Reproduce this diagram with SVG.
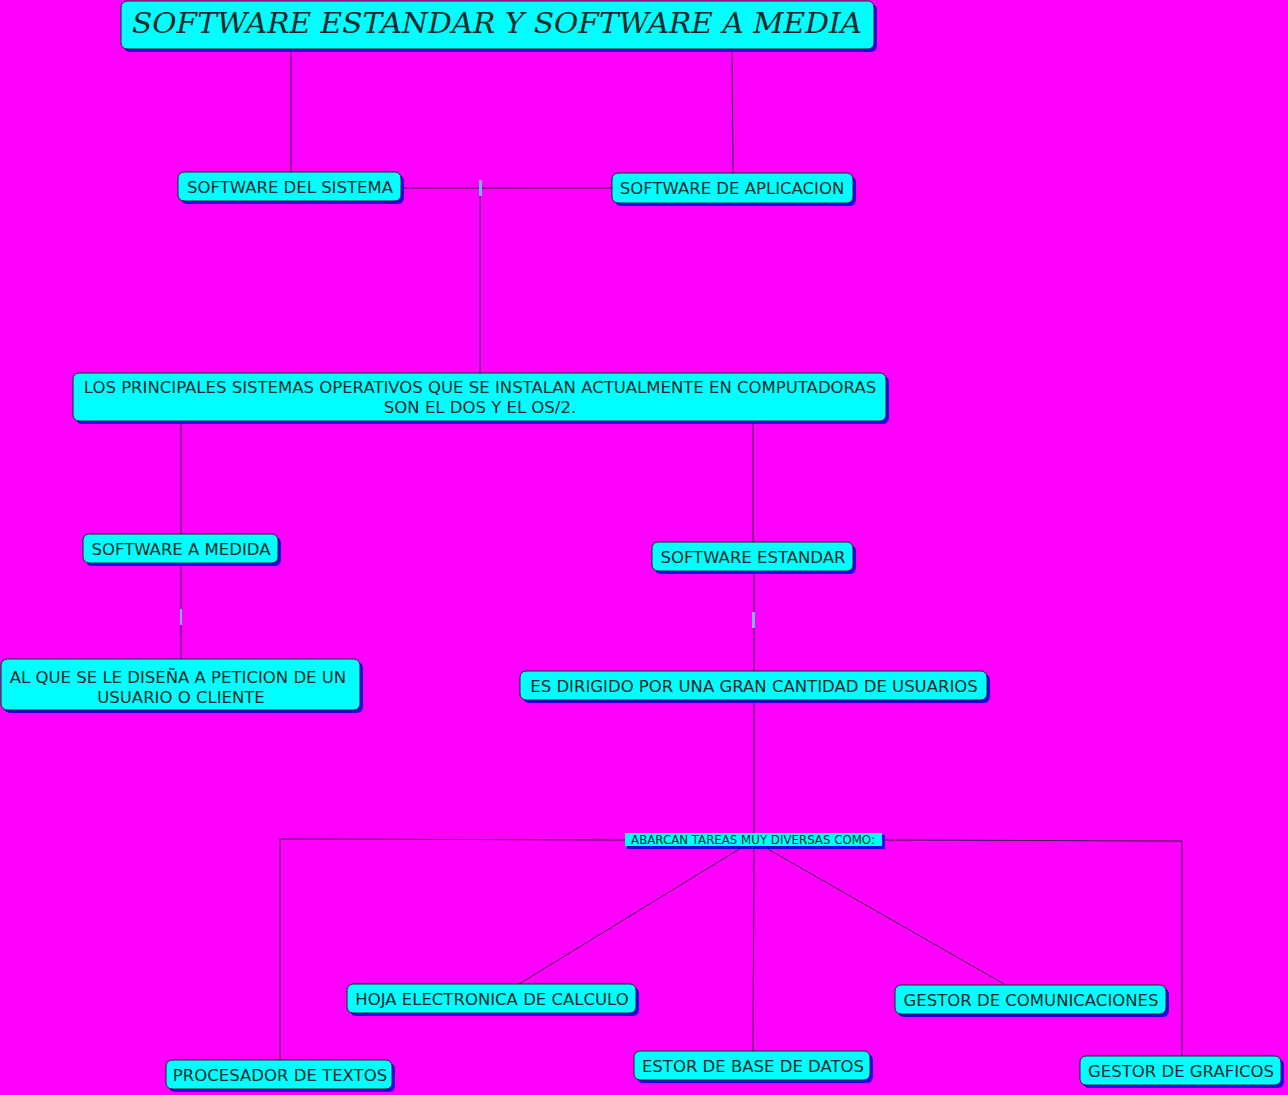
<svg xmlns="http://www.w3.org/2000/svg" width="1288" height="1095" viewBox="0 0 1288 1095">
<style>
.box{fill:#00ffff;stroke:#222;stroke-width:1}
.sh{fill:#2000ee}
.t{font-family:"DejaVu Sans",Verdana,sans-serif;font-size:16.5px;fill:#0a2a2a;text-anchor:middle}
.c{stroke:#3a0040;stroke-width:1;fill:none}
.tick{fill:#6fb8ff}
</style>
<rect width="1288" height="1095" fill="#ff00ff"/>
<g id="connectors">
<path class="c" d="M291 49V172M732 49L733 173M401 188H612M480 188V373M181 421V534M753 421V542M181 563V659M754 571V671M754 700V833M625 840L280 839V1060M882 840L1182 841V1056M741 848L519 984M754 848L753 1051M766 848L1004 984"/>
<rect class="tick" x="479" y="180" width="3" height="16"/>
<rect class="tick" x="180" y="609" width="2" height="16"/>
<rect class="tick" x="752" y="612" width="3" height="16"/>
</g>
<g id="title">
<rect class="sh" x="124" y="4" width="753" height="48" rx="6"/>
<rect class="box" x="121" y="1" width="753" height="48" rx="6"/>
<text x="497" y="33" font-family="'DejaVu Serif',serif" font-style="italic" font-size="28" fill="#0a2a2a" text-anchor="middle" textLength="730" lengthAdjust="spacingAndGlyphs">SOFTWARE ESTANDAR Y SOFTWARE A MEDIA</text>
</g>
<g id="n-sistema">
<rect class="sh" x="181" y="175" width="223" height="29" rx="6"/>
<rect class="box" x="178" y="172" width="223" height="29" rx="6"/>
<text class="t" x="290" y="193">SOFTWARE DEL SISTEMA</text>
</g>
<g id="n-aplicacion">
<rect class="sh" x="615" y="176" width="241" height="30" rx="6"/>
<rect class="box" x="612" y="173" width="241" height="30" rx="6"/>
<text class="t" x="732" y="194">SOFTWARE DE APLICACION</text>
</g>
<g id="n-principales">
<rect class="sh" x="76" y="376" width="813" height="48" rx="6"/>
<rect class="box" x="73" y="373" width="813" height="48" rx="6"/>
<text class="t" x="480" y="393">LOS PRINCIPALES SISTEMAS OPERATIVOS QUE SE INSTALAN ACTUALMENTE EN COMPUTADORAS</text>
<text class="t" x="480" y="413">SON EL DOS Y EL OS/2.</text>
</g>
<g id="n-medida">
<rect class="sh" x="86" y="537" width="195" height="29" rx="6"/>
<rect class="box" x="83" y="534" width="195" height="29" rx="6"/>
<text class="t" x="181" y="555">SOFTWARE A MEDIDA</text>
</g>
<g id="n-estandar">
<rect class="sh" x="655" y="545" width="201" height="29" rx="6"/>
<rect class="box" x="652" y="542" width="201" height="29" rx="6"/>
<text class="t" x="753" y="563">SOFTWARE ESTANDAR</text>
</g>
<g id="n-peticion">
<rect class="sh" x="4" y="662" width="359" height="51" rx="6"/>
<rect class="box" x="1" y="659" width="359" height="51" rx="6"/>
<text class="t" x="178" y="683">AL QUE SE LE DISEÑA A PETICION DE UN</text>
<text class="t" x="181" y="703">USUARIO O CLIENTE</text>
</g>
<g id="n-dirigido">
<rect class="sh" x="523" y="674" width="467" height="29" rx="6"/>
<rect class="box" x="520" y="671" width="467" height="29" rx="6"/>
<text class="t" x="754" y="692">ES DIRIGIDO POR UNA GRAN CANTIDAD DE USUARIOS</text>
</g>
<g id="l-abarcan">
<rect class="sh" x="627" y="835" width="258" height="14"/>
<rect x="625" y="833" width="257" height="13" fill="#00ffff"/>
<text x="753" y="844" font-family="'DejaVu Sans',Verdana,sans-serif" font-size="11.8" fill="#0a2a2a" text-anchor="middle">ABARCAN TAREAS MUY DIVERSAS COMO:</text>
</g>
<g id="n-hoja">
<rect class="sh" x="350" y="987" width="289" height="29" rx="6"/>
<rect class="box" x="347" y="984" width="289" height="29" rx="6"/>
<text class="t" x="492" y="1005">HOJA ELECTRONICA DE CALCULO</text>
</g>
<g id="n-comunicaciones">
<rect class="sh" x="898" y="988" width="271" height="29" rx="6"/>
<rect class="box" x="895" y="985" width="271" height="29" rx="6"/>
<text class="t" x="1031" y="1006">GESTOR DE COMUNICACIONES</text>
</g>
<g id="n-procesador">
<rect class="sh" x="169" y="1063" width="226" height="29" rx="6"/>
<rect class="box" x="166" y="1060" width="226" height="29" rx="6"/>
<text class="t" x="280" y="1081">PROCESADOR DE TEXTOS</text>
</g>
<g id="n-base">
<rect class="sh" x="637" y="1054" width="236" height="29" rx="6"/>
<rect class="box" x="634" y="1051" width="236" height="29" rx="6"/>
<text class="t" x="753" y="1072">ESTOR DE BASE DE DATOS</text>
</g>
<g id="n-graficos">
<rect class="sh" x="1083" y="1059" width="201" height="29" rx="6"/>
<rect class="box" x="1080" y="1056" width="201" height="29" rx="6"/>
<text class="t" x="1181" y="1077">GESTOR DE GRAFICOS</text>
</g>
</svg>
